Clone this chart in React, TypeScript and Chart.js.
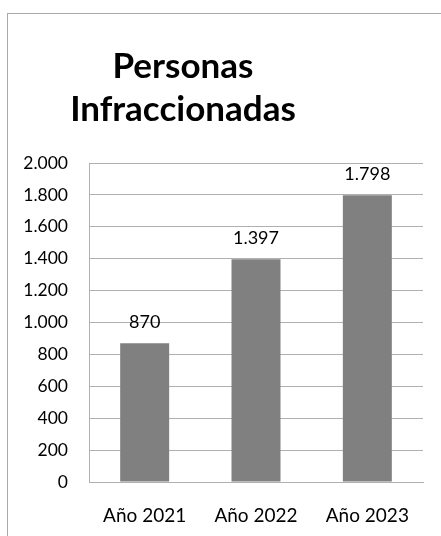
import React, { useEffect, useRef } from "react";
import { Chart, registerables } from "chart.js";

Chart.register(...registerables);

const titleLines = ["Personas", "Infraccionadas"];
const categories = ["Año 2021", "Año 2022", "Año 2023"];
const values = [870, 1397, 1798];
const yMin = 0;
const yMax = 2000;
const yStep = 200;

const fmt = (v: number) => {
  const s = Math.round(v).toString();
  return s.replace(/\B(?=(\d{3})+(?!\d))/g, ".");
};

const FONT = "Lato, 'Open Sans', sans-serif";

const valueLabels = {
  id: "valueLabels",
  afterDatasetsDraw(chart: any) {
    const ctx = chart.ctx;
    const meta = chart.getDatasetMeta(0);
    ctx.save();
    ctx.font = `18px ${FONT}`;
    ctx.fillStyle = "#000";
    ctx.textAlign = "center";
    ctx.textBaseline = "middle";
    meta.data.forEach((bar: any, i: number) => {
      ctx.fillText(fmt(values[i]), bar.x, bar.y - 21);
    });
    ctx.restore();
  },
};

export default function App() {
  const ref = useRef<HTMLCanvasElement | null>(null);
  useEffect(() => {
    if (!ref.current) return;
    const chart = new Chart(ref.current, {
      type: "bar",
      data: {
        labels: categories,
        datasets: [
          {
            data: values,
            backgroundColor: "#808080",
            borderWidth: 0,
            barPercentage: 0.44,
            categoryPercentage: 1,
          },
        ],
      },
      options: {
        animation: false,
        responsive: false,
        devicePixelRatio: 1,
        layout: { padding: { top: 163, left: 21, right: 18, bottom: 0 } },
        plugins: {
          legend: { display: false },
          tooltip: { enabled: false },
          title: { display: false },
        },
        scales: {
          x: {
            grid: { display: false, drawTicks: false },
            border: { display: true, color: "#b0b0b0", width: 1 },
            ticks: {
              color: "#000",
              padding: 22,
              font: { family: FONT, size: 19 },
            },
            afterFit: (s: any) => {
              s.height = 54;
            },
          },
          y: {
            min: yMin,
            max: yMax,
            grid: { color: "#b0b0b0", lineWidth: 1, drawTicks: false },
            border: { display: true, color: "#b0b0b0", width: 1 },
            ticks: {
              stepSize: yStep,
              color: "#000",
              padding: 21,
              font: { family: FONT, size: 17.5 },
              callback: (v: any) => fmt(Number(v)),
            },
            afterFit: (s: any) => {
              s.width = 68;
            },
          },
        },
      },
      plugins: [valueLabels],
    });
    return () => chart.destroy();
  }, []);

  return (
    <div style={{ position: "fixed", left: 0, top: 0, width: 441, height: 536, overflow: "hidden", background: "#fff" }}>
      <div
        style={{
          position: "absolute",
          left: 7,
          top: 13,
          width: 500,
          height: 600,
          border: "1px solid #aaaaaa",
        }}
      />
      <canvas ref={ref} width={441} height={536} style={{ position: "absolute", left: 0, top: 0 }} />
      <div
        style={{
          position: "absolute",
          left: 0,
          top: 43,
          width: 366,
          textAlign: "center",
          fontFamily: FONT,
          fontWeight: 700,
          fontSize: 35,
          lineHeight: "43px",
          color: "#000",
        }}
      >
        {titleLines.map((l, i) => (
          <div key={i}>{l}</div>
        ))}
      </div>
    </div>
  );
}
